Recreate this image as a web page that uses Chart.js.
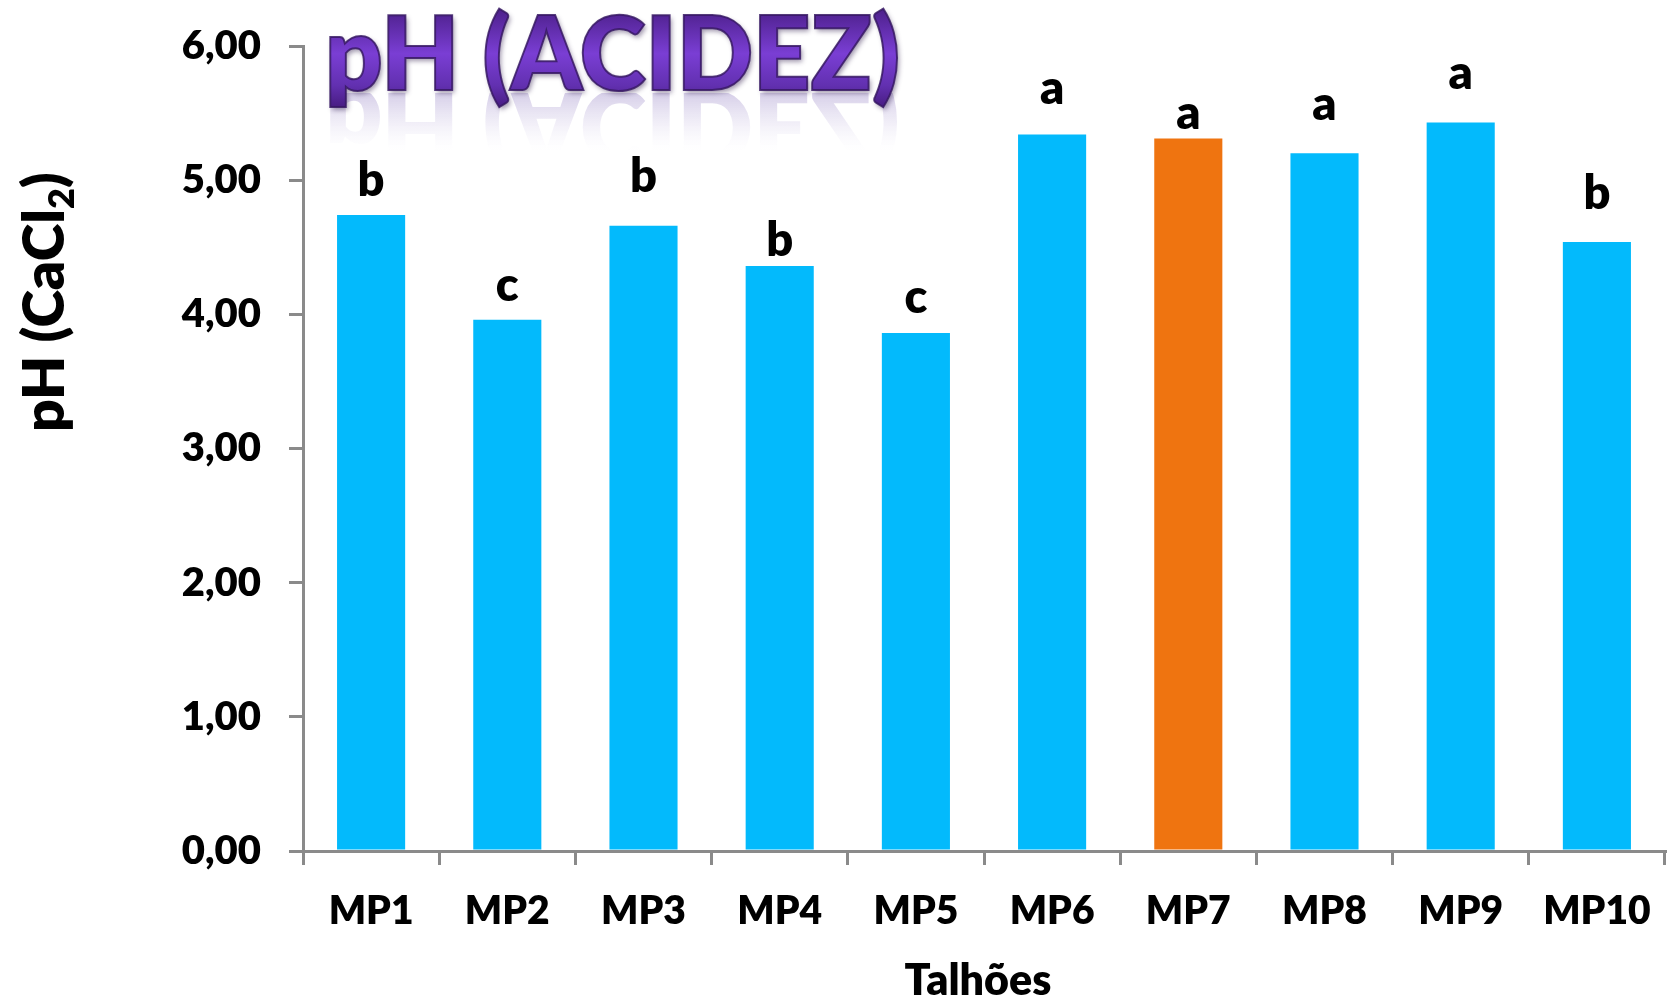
<!DOCTYPE html>
<html>
<head>
<meta charset="utf-8">
<title>pH (ACIDEZ)</title>
<script src="https://cdn.jsdelivr.net/npm/chart.js@4.4.1/dist/chart.umd.min.js"></script>
<style>
  html, body { margin: 0; padding: 0; background: #ffffff; }
  #wrap { width: 1670px; height: 1001px; }
</style>
</head>
<body>
<div id="wrap"><canvas id="ph" width="1670" height="1001"></canvas></div>
<script>
// Soil pH (CaCl2) per field plot, with the significance group of each mean
const categories = ['MP1', 'MP2', 'MP3', 'MP4', 'MP5', 'MP6', 'MP7', 'MP8', 'MP9', 'MP10'];
const phValues   = [4.74, 3.96, 4.66, 4.36, 3.86, 5.34, 5.31, 5.20, 5.43, 4.54];
const groups     = ['b', 'c', 'b', 'b', 'c', 'a', 'a', 'a', 'a', 'b'];
const yTicks     = [0, 1, 2, 3, 4, 5, 6];
const highlighted = 'MP7';

// Styling
const FONT = 'Lato, "Open Sans", "DejaVu Sans", sans-serif';
const WEIGHT = 800;
const BLUE = '#03BAFC';
const ORANGE = '#EF7410';
const AXIS = '#8A8A8A';
// gap (px) between each group letter and the top of its bar
const letterGap = [19, 19, 34, 10, 20, 31, 10, 33, 33, 33];

const fmt = v => v.toFixed(2).replace('.', ',');
const font = px => WEIGHT + ' ' + px + 'px ' + FONT;

// Big purple heading with soft reflection underneath
const headingPlugin = {
  id: 'heading',
  afterDraw(chart) {
    const ctx = chart.ctx;
    const text = 'pH (ACIDEZ)';
    const left = 325, baseline = 90, capH = 76, targetW = 575;
    ctx.save();
    ctx.font = font(100);
    const asc = ctx.measureText('H').actualBoundingBoxAscent || 72;
    const size = 100 * capH / asc;
    ctx.font = font(size.toFixed(1));
    const w = ctx.measureText(text).width;
    const sx = targetW / w;

    // reflection
    ctx.save();
    ctx.beginPath();
    ctx.rect(left - 10, baseline + 3, targetW + 30, 70);
    ctx.clip();
    const mirror = baseline * 2 + 6;
    ctx.translate(left, mirror);
    ctx.scale(sx, -1);
    const rg = ctx.createLinearGradient(0, mirror - baseline - 3, 0, mirror - baseline - 60);
    rg.addColorStop(0, 'rgba(120, 95, 180, 0.30)');
    rg.addColorStop(0.55, 'rgba(150, 130, 200, 0.12)');
    rg.addColorStop(1, 'rgba(200, 190, 230, 0)');
    ctx.fillStyle = rg;
    ctx.textBaseline = 'alphabetic';
    ctx.fillText(text, 0, mirror - baseline);
    ctx.restore();

    // main text
    ctx.translate(left, 0);
    ctx.scale(sx, 1);
    const g = ctx.createLinearGradient(0, baseline - capH - 8, 0, baseline + 22);
    g.addColorStop(0, '#4A1E86');
    g.addColorStop(0.45, '#7A3ED4');
    g.addColorStop(0.75, '#6230B0');
    g.addColorStop(1, '#421878');
    ctx.textBaseline = 'alphabetic';
    ctx.shadowColor = 'rgba(40, 20, 70, 0.45)';
    ctx.shadowBlur = 5;
    ctx.shadowOffsetX = 2;
    ctx.shadowOffsetY = 3;
    ctx.fillStyle = g;
    ctx.fillText(text, 0, baseline);
    ctx.shadowColor = 'transparent';
    ctx.lineWidth = 2;
    ctx.strokeStyle = 'rgba(55, 25, 100, 0.85)';
    ctx.strokeText(text, 0, baseline);
    ctx.restore();
  }
};

// Group letters above each bar
const lettersPlugin = {
  id: 'letters',
  afterDatasetsDraw(chart) {
    const ctx = chart.ctx;
    const meta = chart.getDatasetMeta(0);
    ctx.save();
    ctx.font = font(47);
    ctx.fillStyle = '#000000';
    ctx.textAlign = 'center';
    ctx.textBaseline = 'alphabetic';
    meta.data.forEach((bar, i) => {
      ctx.fillText(groups[i], bar.x, bar.y - letterGap[i]);
    });
    ctx.restore();
  }
};

// Axis titles: y title with a subscript, x title below the category labels
const axisTitlesPlugin = {
  id: 'axisTitles',
  afterDraw(chart) {
    const ctx = chart.ctx;
    const area = chart.chartArea;
    ctx.save();
    ctx.fillStyle = '#000000';
    ctx.textBaseline = 'alphabetic';

    // y title, rotated
    const main = 'pH (CaCl', sub = '2', close = ')';
    const bigF = font(57), subF = font(36);
    ctx.font = bigF;
    const wMain = ctx.measureText(main).width;
    const wClose = ctx.measureText(close).width;
    ctx.font = subF;
    const wSub = ctx.measureText(sub).width;
    const total = wMain + wSub + wClose;
    ctx.save();
    ctx.translate(64, 302);
    ctx.rotate(-Math.PI / 2);
    let x = -total / 2;
    ctx.font = bigF;
    ctx.fillText(main, x, 0);
    x += wMain;
    ctx.font = subF;
    ctx.fillText(sub, x, 10);
    x += wSub;
    ctx.font = bigF;
    ctx.fillText(close, x, 0);
    ctx.restore();

    // x title
    ctx.font = font(43);
    ctx.textAlign = 'center';
    ctx.fillText('Talhões', (area.left + area.right) / 2 - 6, 995);
    ctx.restore();
  }
};

const barColors = categories.map(c => c === highlighted ? ORANGE : BLUE);

new Chart(document.getElementById('ph'), {
  type: 'bar',
  data: {
    labels: categories,
    datasets: [{
      label: 'pH (CaCl2)',
      data: phValues,
      backgroundColor: barColors,
      borderWidth: 0,
      categoryPercentage: 0.5,
      barPercentage: 1.0
    }]
  },
  options: {
    responsive: false,
    animation: false,
    devicePixelRatio: 1,
    layout: { padding: { top: 46, right: 5, left: 0, bottom: 0 } },
    plugins: {
      legend: { display: false },
      tooltip: { enabled: false },
      title: { display: false }
    },
    scales: {
      x: {
        afterFit(scale) {
          scale.height = 150;
          scale.paddingLeft = 0;
          scale.paddingRight = 0;
        },
        grid: {
          offset: true,
          drawOnChartArea: false,
          drawTicks: true,
          tickLength: 14,
          color: AXIS,
          lineWidth: 3
        },
        border: { display: true, color: AXIS, width: 3 },
        ticks: {
          color: '#000000',
          padding: 23,
          font: { family: FONT, size: 39, weight: WEIGHT }
        }
      },
      y: {
        min: 0,
        max: 6,
        afterFit(scale) {
          scale.width = 303;
          scale.paddingTop = 0;
          scale.paddingBottom = 0;
        },
        afterBuildTicks(scale) { scale.ticks = yTicks.map(v => ({ value: v })); },
        grid: {
          drawOnChartArea: false,
          drawTicks: true,
          tickLength: 14,
          color: AXIS,
          lineWidth: 3
        },
        border: { display: true, color: AXIS, width: 3 },
        ticks: {
          color: '#000000',
          padding: 28,
          callback: v => fmt(v),
          font: { family: FONT, size: 40, weight: WEIGHT }
        }
      }
    }
  },
  plugins: [lettersPlugin, axisTitlesPlugin, headingPlugin]
});
</script>
</body>
</html>
